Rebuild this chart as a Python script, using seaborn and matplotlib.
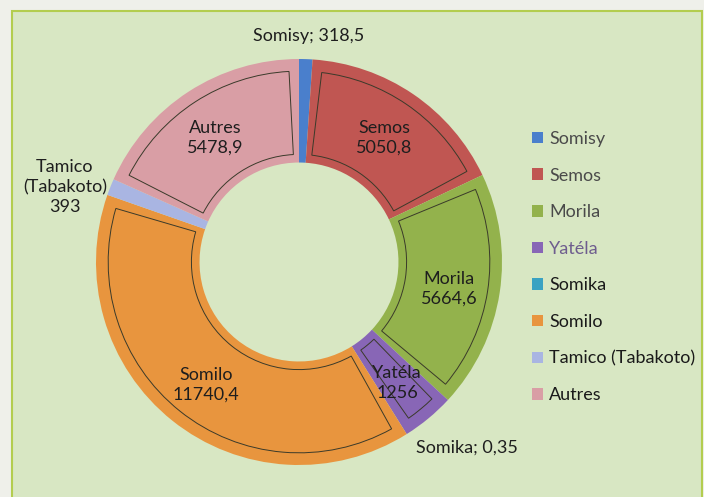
import matplotlib.pyplot as plt
import matplotlib.patches as mpatches
import seaborn as sns

# Production par société (données du graphique)
societes = ['Somisy', 'Semos', 'Morila', 'Yatéla', 'Somika', 'Somilo',
            'Tamico (Tabakoto)', 'Autres']
valeurs = [318.5, 5050.8, 5664.6, 1256, 0.35, 11740.4, 393, 5478.9]
etiquettes = ['Somisy; 318,5', 'Semos\n5050,8', 'Morila\n5664,6',
              'Yatéla\n1256', 'Somika; 0,35', 'Somilo\n11740,4',
              'Tamico\n(Tabakoto)\n393', 'Autres\n5478,9']
couleurs = ['#4a7fcc', '#c05652', '#93b24c', '#8866b6', '#3aa2c2',
            '#e8953e', '#a9b5e2', '#d99ea5']

sns.set_style("white")
plt.rcParams['font.family'] = ['Lato', 'DejaVu Sans']

fig = plt.figure(figsize=(7.04, 4.97), dpi=100, facecolor='#eff0ea')
W, H = 704, 497

# fond vert avec cadre
fond = mpatches.Rectangle((12 / W, -0.05), 690 / W, 1.05 - 11 / H,
                          transform=fig.transFigure, facecolor='#d8e7c3',
                          edgecolor='#b3cd4f', linewidth=1.5, zorder=-5)
fig.patches.append(fond)

# axes centrés sur l'anneau
cx, cy, R = 299, 262, 203
ax = fig.add_axes([(cx - R) / W, (H - cy - R) / H, 2 * R / W, 2 * R / H])
ax.set_facecolor('none')
ax.set_zorder(2)

wedges, _ = ax.pie(valeurs, colors=couleurs, startangle=90, counterclock=False,
                   radius=1, wedgeprops=dict(width=0.51, linewidth=0))

# contour intérieur (effet biseau)
contours, _ = ax.pie(valeurs, startangle=90, counterclock=False, radius=0.94,
                     wedgeprops=dict(width=0.41, fill=False, linewidth=0.7,
                                     edgecolor='#3a3a2a'))
for w in contours:
    if w.theta2 - w.theta1 < 5:
        w.set_visible(False)
    else:
        w.set_theta1(w.theta1 + 3)
        w.set_theta2(w.theta2 - 3)

ax.set_xlim(-1, 1)
ax.set_ylim(-1, 1)
ax.axis('off')

# étiquettes de données
pos = [(0.049, 1.113), (0.419, 0.611), (0.739, -0.133), (0.483, -0.596),
       (0.828, -0.916), (-0.458, -0.606), (-1.153, 0.369), (-0.414, 0.611)]
for txt, (x, y) in zip(etiquettes, pos):
    ax.text(x, y, txt, ha='center', va='center', fontsize=13,
            color='#1e1e1e', linespacing=1.3, clip_on=False)

# légende
leg = fig.legend(wedges, societes, loc='upper left',
                 bbox_to_anchor=(532 / W, 1 - 131 / H), frameon=False,
                 fontsize=13, handlelength=0.6, handleheight=0.6,
                 handletextpad=0.35, labelspacing=1.14, borderpad=0,
                 borderaxespad=0)
for i, t in enumerate(leg.get_texts()):
    if i < 3:
        t.set_color('#4a4a4a')
    elif i == 3:
        t.set_color('#6e5d8e')
    else:
        t.set_color('#1a1a1a')

fig.savefig('out.png', dpi=100, facecolor=fig.get_facecolor())
